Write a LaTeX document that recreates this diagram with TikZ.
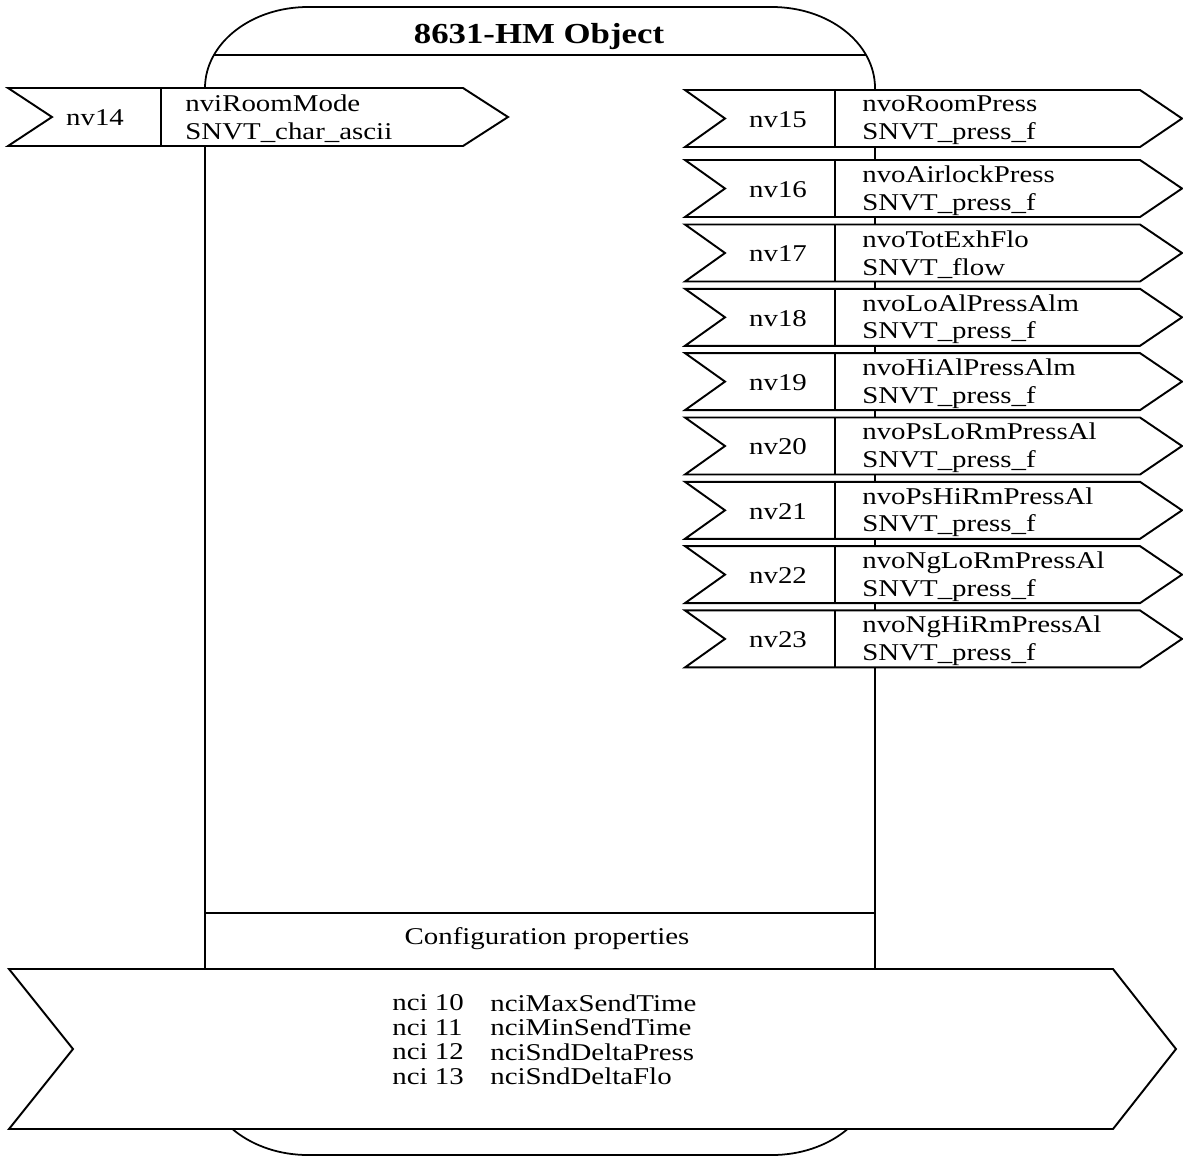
\documentclass[tikz,border=0pt]{standalone}
\usepackage{fontspec}
\setmainfont[FakeStretch=1.2]{Liberation Serif}

\begin{document}
\begin{tikzpicture}[x=0.02cm, y=0.02cm, line join=miter, font=\fontsize{13.7}{15.8}\selectfont]
	\tikzset{
		outline/.style={line width=1pt},
		flag/.style={line width=1.1pt, fill=white},
		nvtext/.style={anchor=west, align=left, inner sep=0pt},
		ncitext/.style={anchor=west, inner sep=0pt},
	}
	\useasboundingbox (0,0) rectangle (1183,-1157);
	
	% 1. Object body with rounded ends
	\draw[outline] (205,-88) arc[start angle=180, end angle=90, x radius=103, y radius=81]
		-- (772,-7) arc[start angle=90, end angle=0, x radius=103, y radius=81]
		-- (875,-1074) arc[start angle=0, end angle=-90, x radius=103, y radius=81]
		-- (308,-1155) arc[start angle=270, end angle=180, x radius=103, y radius=81]
		-- cycle;
	\draw[outline] (214,-55) -- (866,-55);
	\draw[outline] (205,-913) -- (875,-913);
	\node[font=\bfseries\fontsize{16.5}{19}\selectfont] (title) at (539,-37) {8631-HM Object};
	\node (cfglabel) at (547,-939) {Configuration properties};
	
	% 2. Input
	\draw[flag] (8,-88) -- (463,-88) -- (508,-117) -- (463,-146) -- (8,-146) -- (52,-117) -- cycle;
	\draw[flag] (161,-88) -- (161,-146);
	\node (nv14) at (95,-118) {nv14};
	\node[nvtext] (nvt14) at (185,-119) {nviRoomMode\\SNVT\_char\_ascii};
	
	% 3. Outputs
	\foreach \num/\yc/\nvname/\nvtype in {
		15/-118.5/nvoRoomPress/SNVT\_press\_f,
		16/-188.5/nvoAirlockPress/SNVT\_press\_f,
		17/-253/nvoTotExhFlo/SNVT\_flow,
		18/-317.3/nvoLoAlPressAlm/SNVT\_press\_f,
		19/-381.6/nvoHiAlPressAlm/SNVT\_press\_f,
		20/-446/nvoPsLoRmPressAl/SNVT\_press\_f,
		21/-510.3/nvoPsHiRmPressAl/SNVT\_press\_f,
		22/-574.6/nvoNgLoRmPressAl/SNVT\_press\_f,
		23/-638.9/nvoNgHiRmPressAl/SNVT\_press\_f} {
		\draw[flag] (685,\yc+28.5) -- (1140,\yc+28.5) -- (1182,\yc) -- (1140,\yc-28.5)
			-- (685,\yc-28.5) -- (725,\yc) -- cycle;
		\draw[flag] (835,\yc+28.5) -- (835,\yc-28.5);
		\node (nv\num) at (778,\yc-1) {nv\num};
		\node[nvtext] (nvt\num) at (862,\yc-2) {\nvname\\\nvtype};
	}
	
	% 4. Configuration properties
	\draw[flag] (9,-969) -- (1113,-969) -- (1176,-1049) -- (1113,-1129) -- (9,-1129) -- (73,-1049) -- cycle;
	\foreach \num/\yc/\nciname in {10/-1003/nciMaxSendTime, 11/-1027.5/nciMinSendTime,
		12/-1052/nciSndDeltaPress, 13/-1076.5/nciSndDeltaFlo} {
		\node[ncitext] (nci\num) at (392,\yc) {nci \num};
		\node[ncitext] (ncin\num) at (490,\yc) {\nciname};
	}
\end{tikzpicture}
\end{document}
